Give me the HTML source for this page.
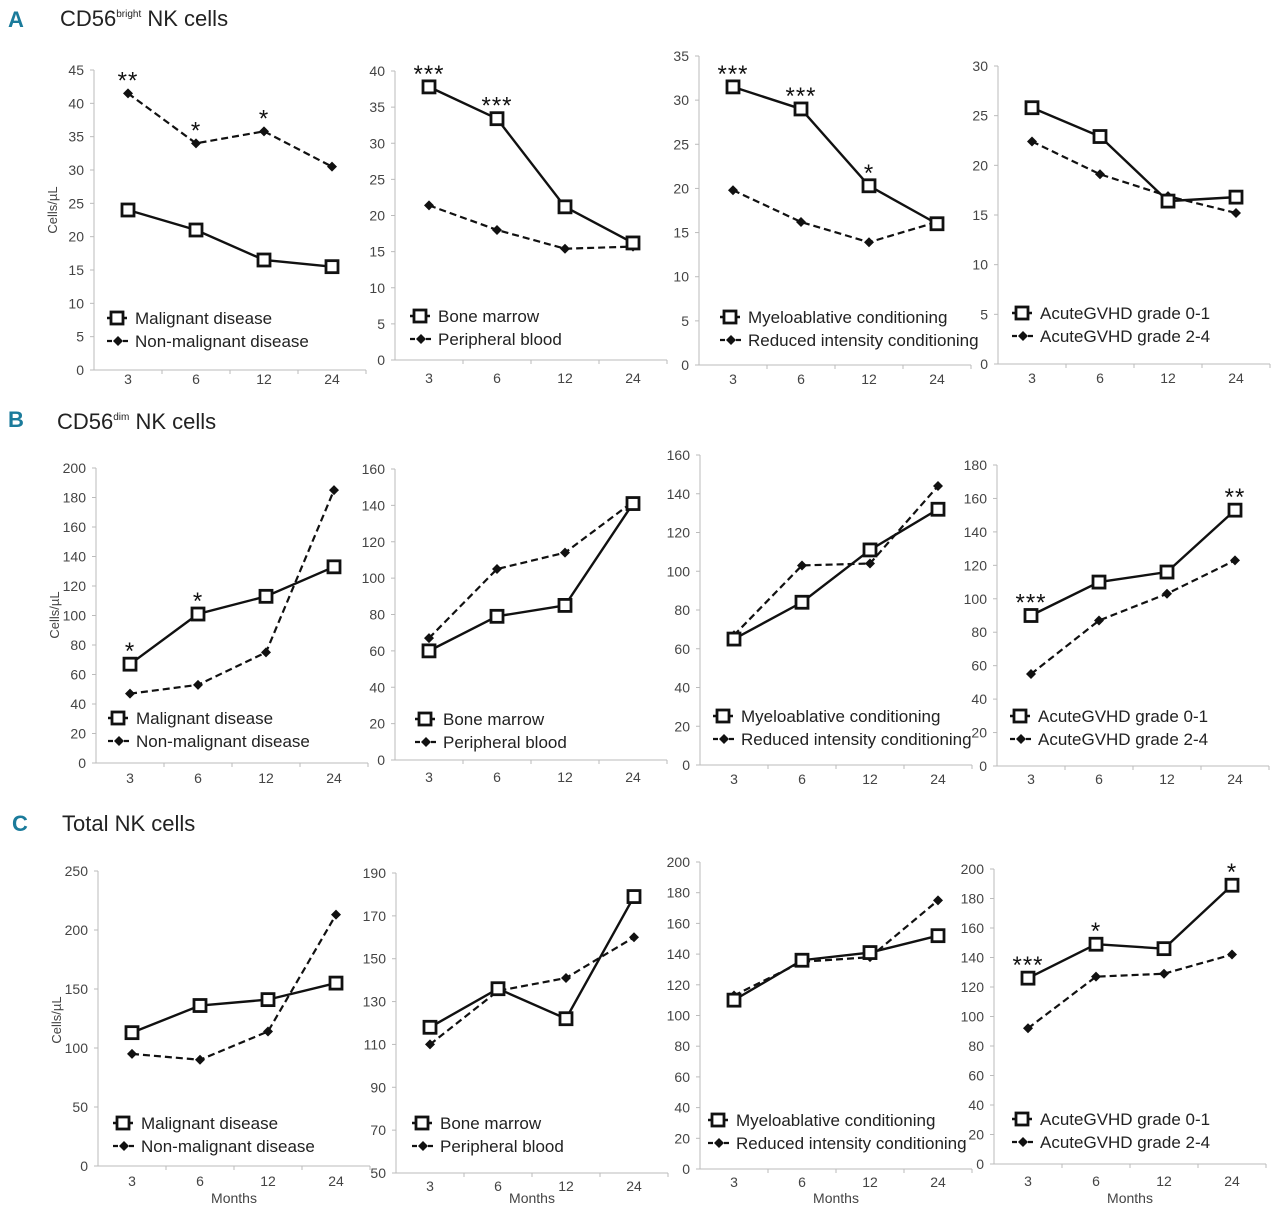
<!DOCTYPE html>
<html><head><meta charset="utf-8"><style>
body{margin:0;background:#fff}
svg{display:block}
text{font-family:"Liberation Sans Narrow","Liberation Sans",sans-serif}
</style></head><body>
<svg id="fig" width="1280" height="1217" viewBox="0 0 1280 1217" xmlns="http://www.w3.org/2000/svg">
<text x="8" y="27" font-size="22" font-weight="bold" fill="#1b7b9b">A</text>
<text x="60" y="26" font-size="22" fill="#222">CD56<tspan font-size="10" dy="-9">bright</tspan><tspan dy="9"> NK cells</tspan></text>
<text x="8" y="427" font-size="22" font-weight="bold" fill="#1b7b9b">B</text>
<text x="57" y="429" font-size="22" fill="#222">CD56<tspan font-size="10" dy="-9">dim</tspan><tspan dy="9"> NK cells</tspan></text>
<text x="12" y="831" font-size="22" font-weight="bold" fill="#1b7b9b">C</text>
<text x="62" y="831" font-size="22" fill="#222">Total NK cells</text>
</svg>
<script>
const categories = ["3","6","12","24"];
// Row A: CD56bright
const a1Malignant=[24,21,16.5,15.5], a1NonMalignant=[41.5,34,35.8,30.5];
const a2BoneMarrow=[37.8,33.4,21.2,16.2], a2PeripheralBlood=[21.4,18,15.4,15.7];
const a3Myeloablative=[31.5,29,20.3,16], a3ReducedIntensity=[19.8,16.2,13.9,16.2];
const a4Gvhd01=[25.8,22.9,16.4,16.8], a4Gvhd24=[22.4,19.1,16.9,15.2];
// Row B: CD56dim
const b1Malignant=[67,101,113,133], b1NonMalignant=[47,53,75,185];
const b2BoneMarrow=[60,79,85,141], b2PeripheralBlood=[67,105,114,142];
const b3Myeloablative=[65,84,111,132], b3ReducedIntensity=[67,103,104,144];
const b4Gvhd01=[90,110,116,153], b4Gvhd24=[55,87,103,123];
// Row C: Total
const c1Malignant=[113,136,141,155], c1NonMalignant=[95,90,114,213];
const c2BoneMarrow=[118,136,122,179], c2PeripheralBlood=[110,135,141,160];
const c3Myeloablative=[110,136,141,152], c3ReducedIntensity=[113,135,138,175];
const c4Gvhd01=[126,149,146,189], c4Gvhd24=[92,127,129,142];
// significance stars: [categoryIndex, label, series("s" solid / "d" dashed)]
const a1Stars=[[0,"**","d"],[1,"*","d"],[2,"*","d"]];
const a2Stars=[[0,"***","s"],[1,"***","s"]];
const a3Stars=[[0,"***","s"],[1,"***","s"],[2,"*","s"]];
const b1Stars=[[0,"*","s"],[1,"*","s"]];
const b4Stars=[[0,"***","s"],[3,"**","s"]];
const c4Stars=[[0,"***","s"],[1,"*","s"],[3,"*","s"]];
const yTicksA1=[0,5,10,15,20,25,30,35,40,45];
const yTicksA2=[0,5,10,15,20,25,30,35,40];
const yTicksA3=[0,5,10,15,20,25,30,35];
const yTicksA4=[0,5,10,15,20,25,30];
const yTicksB1=[0,20,40,60,80,100,120,140,160,180,200];
const yTicksB2=[0,20,40,60,80,100,120,140,160];
const yTicksB3=[0,20,40,60,80,100,120,140,160];
const yTicksB4=[0,20,40,60,80,100,120,140,160,180];
const yTicksC1=[0,50,100,150,200,250];
const yTicksC2=[50,70,90,110,130,150,170,190];
const yTicksC3=[0,20,40,60,80,100,120,140,160,180,200];
const yTicksC4=[0,20,40,60,80,100,120,140,160,180,200];

const legMal=["Malignant disease","Non-malignant disease"];
const legSrc=["Bone marrow","Peripheral blood"];
const legCond=["Myeloablative conditioning","Reduced intensity conditioning"];
const legGvhd=["AcuteGVHD grade 0-1","AcuteGVHD grade 2-4"];

const panels=[
 {id:"a1",ax:94,yTop:70,yBot:370,t:yTicksA1,s:a1Malignant,d:a1NonMalignant,st:a1Stars,leg:legMal,lx:107,ly:318,ytitle:true,ty:210,xo:14},
 {id:"a2",ax:395,yTop:71,yBot:360,t:yTicksA2,s:a2BoneMarrow,d:a2PeripheralBlood,st:a2Stars,leg:legSrc,lx:410,ly:316,xo:23},
 {id:"a3",ax:699,yTop:56,yBot:365,t:yTicksA3,s:a3Myeloablative,d:a3ReducedIntensity,st:a3Stars,leg:legCond,lx:720,ly:317,xo:19},
 {id:"a4",ax:998,yTop:66,yBot:364,t:yTicksA4,s:a4Gvhd01,d:a4Gvhd24,st:[],leg:legGvhd,lx:1012,ly:313,xo:19},
 {id:"b1",ax:96,yTop:468,yBot:763,t:yTicksB1,s:b1Malignant,d:b1NonMalignant,st:b1Stars,leg:legMal,lx:108,ly:718,ytitle:true,ty:615,xo:20},
 {id:"b2",ax:395,yTop:469,yBot:760,t:yTicksB2,s:b2BoneMarrow,d:b2PeripheralBlood,st:[],leg:legSrc,lx:415,ly:719,xo:22},
 {id:"b3",ax:700,yTop:455,yBot:765,t:yTicksB3,s:b3Myeloablative,d:b3ReducedIntensity,st:[],leg:legCond,lx:713,ly:716,xo:19},
 {id:"b4",ax:997,yTop:465,yBot:766,t:yTicksB4,s:b4Gvhd01,d:b4Gvhd24,st:b4Stars,leg:legGvhd,lx:1010,ly:716,xo:18},
 {id:"c1",ax:98,yTop:871,yBot:1166,t:yTicksC1,s:c1Malignant,d:c1NonMalignant,st:[],leg:legMal,lx:113,ly:1123,ytitle:true,ty:1020,months:true,xo:20},
 {id:"c2",ax:396,yTop:873,yBot:1173,t:yTicksC2,s:c2BoneMarrow,d:c2PeripheralBlood,st:[],leg:legSrc,lx:412,ly:1123,months:true,xo:18},
 {id:"c3",ax:700,yTop:862,yBot:1169,t:yTicksC3,s:c3Myeloablative,d:c3ReducedIntensity,st:[],leg:legCond,lx:708,ly:1120,months:true,xo:18},
 {id:"c4",ax:994,yTop:869,yBot:1164,t:yTicksC4,s:c4Gvhd01,d:c4Gvhd24,st:c4Stars,leg:legGvhd,lx:1012,ly:1119,months:true,xo:22}
];
const NS="http://www.w3.org/2000/svg";
const svg=document.getElementById("fig");
function mk(tag,attrs,parent){const e=document.createElementNS(NS,tag);for(const k in attrs)e.setAttribute(k,attrs[k]);(parent||svg).appendChild(e);return e;}
const BAND=68;
panels.forEach(p=>{
  const g=mk("g",{});
  
  
  const ymin=p.t[0], ymax=p.t[p.t.length-1];
  const y=v=>p.yBot-(v-ymin)/(ymax-ymin)*(p.yBot-p.yTop);
  const x=i=>p.ax+BAND*(i+0.5);
  const ya=mk("line",{x1:p.ax,y1:p.yTop,x2:p.ax,y2:p.yBot,stroke:"#bbb","stroke-width":1},g);
  
  
  const xa=mk("line",{x1:p.ax,y1:p.yBot,x2:p.ax+BAND*4,y2:p.yBot,stroke:"#bbb","stroke-width":1},g);
  
  
  p.t.forEach(v=>{
    mk("line",{x1:p.ax-4,y1:y(v),x2:p.ax,y2:y(v),stroke:"#bbb"},g);
    const tl=mk("text",{x:p.ax-10,y:y(v)+5,"font-size":14,"text-anchor":"end",fill:"#444"},g);
    tl.textContent=v;
    
    
  });
  categories.forEach((c,i)=>{
    mk("line",{x1:p.ax+BAND*(i+1),y1:p.yBot,x2:p.ax+BAND*(i+1),y2:p.yBot+4,stroke:"#bbb"},g);
    const tl=mk("text",{x:x(i),y:p.yBot+p.xo,"font-size":14,"text-anchor":"middle",fill:"#444"},g);
    tl.textContent=c;
    
    
  });
  if(p.months){
    const m=mk("text",{x:p.ax+BAND*2,y:1203,"font-size":14,"text-anchor":"middle",fill:"#444"},g);
    m.textContent="Months";
    
    
  }
  if(p.ytitle){
    const yt=mk("text",{x:0,y:0,"font-size":13,"text-anchor":"middle",fill:"#444",transform:`translate(${p.ax-37},${p.ty}) rotate(-90)`},g);
    yt.textContent="Cells/µL";
    
    
  }
  const dl=mk("polyline",{points:p.d.map((v,i)=>x(i)+","+y(v)).join(" "),fill:"none",stroke:"#111","stroke-width":2.2,"stroke-dasharray":"7,4"},g);
  
  
  const sl=mk("polyline",{points:p.s.map((v,i)=>x(i)+","+y(v)).join(" "),fill:"none",stroke:"#111","stroke-width":2.4},g);
  
  
  p.d.forEach((v,i)=>{
    const cx=x(i),cy=y(v);
    const m=mk("polygon",{points:`${cx},${cy-5} ${cx+5},${cy} ${cx},${cy+5} ${cx-5},${cy}`,fill:"#111"},g);
    
    
  });
  p.s.forEach((v,i)=>{
    const m=mk("rect",{x:x(i)-6,y:y(v)-6,width:12,height:12,fill:"#fff",stroke:"#111","stroke-width":2.8},g);
    
    
  });
  p.st.forEach(s=>{
    const v=s[2]==="s"?p.s[s[0]]:p.d[s[0]];
    const t=mk("text",{x:x(s[0]),y:y(v)-5,"font-size":24,"text-anchor":"middle",fill:"#111","letter-spacing":"1"},g);
    t.textContent=s[1];
    
    
  });
  const lg=mk("g",{},g);
  
  
  const lx=p.lx, ly=p.ly;
  mk("line",{x1:lx,y1:ly,x2:lx+20,y2:ly,stroke:"#111","stroke-width":2.4},lg);
  mk("rect",{x:lx+4,y:ly-6,width:12,height:12,fill:"#fff",stroke:"#111","stroke-width":2.8},lg);
  mk("line",{x1:lx,y1:ly+23,x2:lx+22,y2:ly+23,stroke:"#111","stroke-width":2.2,"stroke-dasharray":"5,3"},lg);
  mk("polygon",{points:`${lx+11},${ly+18} ${lx+16},${ly+23} ${lx+11},${ly+28} ${lx+6},${ly+23}`,fill:"#111"},lg);
  p.leg.forEach((l,i)=>{
    const t=mk("text",{x:lx+28,y:ly+6+i*23,"font-size":17,fill:"#222"},lg);
    t.textContent=l;
    
    
  });
});
</script>
</body></html>
